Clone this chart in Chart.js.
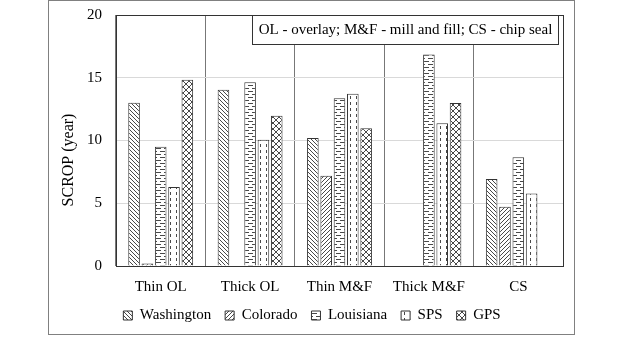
<!DOCTYPE html>
<html>
<head>
<meta charset="utf-8">
<script src="https://cdn.jsdelivr.net/npm/chart.js@4"></script>
<style>
  html, body { margin: 0; padding: 0; background: #fff; }
  #wrap { width: 624px; height: 339px; }
</style>
</head>
<body>
<div id="wrap"><canvas id="scrop" width="624" height="339"></canvas></div>
<script>
// treatment categories and SCROP (years) per data source
const categories = ['Thin OL', 'Thick OL', 'Thin M&F', 'Thick M&F', 'CS'];
const washington = [13.0, 14.05, 10.2, null, 6.93];
const colorado   = [0.2, null, 7.2, null, 4.72];
const louisiana  = [9.5, 14.65, 13.36, 16.85, 8.66];
const sps        = [6.3, 10.05, 13.73, 11.38, 5.78];
const gps        = [14.85, 11.97, 10.98, 12.98, null];
const yTicks = [0, 5, 10, 15, 20];

const FONT = '"Liberation Serif", "Times New Roman", serif';

// small hatch tiles used as bar fills
function hatch(w, h, draw) {
  const c = document.createElement('canvas');
  c.width = w; c.height = h;
  const g = c.getContext('2d');
  g.fillStyle = '#fff';
  g.fillRect(0, 0, w, h);
  g.strokeStyle = '#333';
  g.lineWidth = 0.9;
  g.beginPath();
  draw(g, w, h);
  g.stroke();
  return g.createPattern(c, 'repeat');
}

const patWashington = hatch(4, 4, (g, w, h) => {
  for (let k = -1; k <= 1; k++) { g.moveTo(k * w, 0); g.lineTo(k * w + w, h); }
});
const patColorado = hatch(4, 4, (g, w, h) => {
  for (let k = -1; k <= 1; k++) { g.moveTo(k * w, h); g.lineTo(k * w + w, 0); }
});
const patLouisiana = hatch(8, 6, (g) => {
  g.moveTo(0, 1.5); g.lineTo(5, 1.5);
  g.moveTo(4, 4.5); g.lineTo(8, 4.5);
  g.moveTo(0, 4.5); g.lineTo(1, 4.5);
});
const patSPS = hatch(6, 6, (g) => {
  g.moveTo(2.5, 0); g.lineTo(2.5, 3);
});
const patGPS = hatch(6, 6, (g, w, h) => {
  for (let k = -1; k <= 1; k++) {
    g.moveTo(k * w, 0); g.lineTo(k * w + w, h);
    g.moveTo(k * w, h); g.lineTo(k * w + w, 0);
  }
});

function series(label, data, fill) {
  return {
    label: label,
    data: data,
    backgroundColor: fill,
    borderColor: '#333',
    borderWidth: 1,
    categoryPercentage: 0.745,
    barPercentage: 0.87
  };
}

// outer frame, plot frame, axis title and the abbreviation note
const extras = {
  id: 'extras',
  afterDraw(chart) {
    const ctx = chart.ctx;
    const a = chart.chartArea;
    ctx.save();
    ctx.strokeStyle = '#333';
    ctx.lineWidth = 1;
    ctx.strokeRect(Math.round(a.left) + 0.5, Math.round(a.top) + 0.5,
      Math.round(a.right - a.left), Math.round(a.bottom - a.top));

    ctx.fillStyle = '#fff';
    ctx.fillRect(252.5, 15.5, 306, 29);
    ctx.strokeRect(252.5, 15.5, 306, 29);
    ctx.fillStyle = '#000';
    ctx.font = '15px ' + FONT;
    ctx.textAlign = 'center';
    ctx.textBaseline = 'middle';
    ctx.fillText('OL - overlay; M&F - mill and fill; CS - chip seal', 405.5, 30.5);

    ctx.save();
    ctx.translate(69, 160);
    ctx.rotate(-Math.PI / 2);
    ctx.font = '16px ' + FONT;
    ctx.fillText('SCROP (year)', 0, 0);
    ctx.restore();

    ctx.strokeStyle = '#808080';
    ctx.strokeRect(48.5, 0.5, 526, 334);
    ctx.restore();
  }
};

new Chart(document.getElementById('scrop'), {
  type: 'bar',
  data: {
    labels: categories,
    datasets: [
      series('Washington', washington, patWashington),
      series('Colorado', colorado, patColorado),
      series('Louisiana', louisiana, patLouisiana),
      series('SPS', sps, patSPS),
      series('GPS', gps, patGPS)
    ]
  },
  options: {
    responsive: false,
    animation: false,
    layout: { padding: { left: 0, right: 0, top: 15, bottom: 6 } },
    scales: {
      x: {
        grid: { offset: true, color: '#777', drawTicks: false },
        border: { display: false },
        ticks: { color: '#000', font: { family: FONT, size: 15 }, padding: 12 },
        afterFit(scale) { scale.height = 28; }
      },
      y: {
        min: 0,
        max: 20,
        afterBuildTicks(scale) { scale.ticks = yTicks.map(v => ({ value: v })); },
        grid: { color: '#d9d9d9', drawTicks: false },
        border: { display: false },
        ticks: { color: '#000', font: { family: FONT, size: 15 }, padding: 14 },
        afterFit(scale) {
          scale.width = 116;
          scale.paddingTop = 0;
          scale.paddingBottom = 0;
        }
      },
      // empty right-hand axis that only reserves the margin
      yRight: {
        position: 'right',
        min: 0,
        max: 20,
        grid: { display: false, drawTicks: false },
        border: { display: false },
        ticks: { display: false },
        afterFit(scale) { scale.width = 61; }
      }
    },
    plugins: {
      legend: {
        position: 'bottom',
        labels: {
          boxWidth: 9,
          boxHeight: 9,
          padding: 14,
          color: '#000',
          font: { family: FONT, size: 15 }
        }
      },
      tooltip: { enabled: false }
    }
  },
  plugins: [extras]
});
</script>
</body>
</html>
